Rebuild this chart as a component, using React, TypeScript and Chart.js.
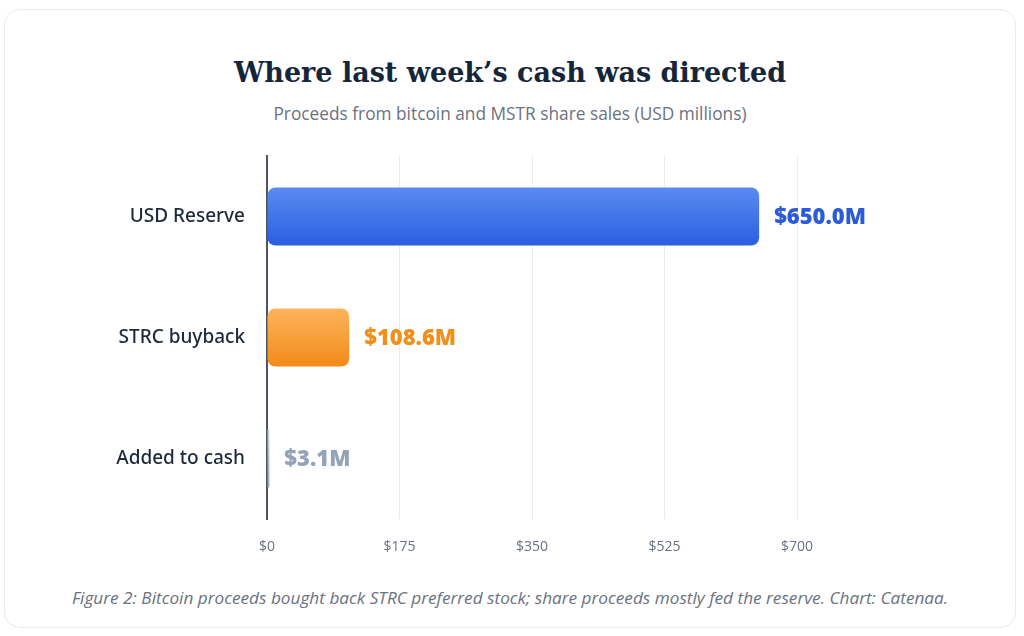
import React, { useEffect, useRef } from "react";
import Chart from "chart.js/auto";

const categories = ["USD Reserve", "STRC buyback", "Added to cash"];
const amounts = [650.0, 108.6, 3.1];
const valueLabels = ["$650.0M", "$108.6M", "$3.1M"];
const tickValues = [0, 175, 350, 525, 700];

const topColors = ["#5b8cf2", "#fdb55c", "#cbd5e1"];
const bottomColors = ["#2a5de0", "#f28a18", "#94a3b8"];
const labelColors = ["#2b5bd7", "#f0901c", "#94a3b8"];

const valueLabelPlugin = {
  id: "valueLabels",
  afterDatasetsDraw(chart: any) {
    const ctx = chart.ctx;
    const meta = chart.getDatasetMeta(0);
    ctx.save();
    ctx.font = "800 22px 'Open Sans'";
    ctx.textBaseline = "middle";
    ctx.textAlign = "left";
    meta.data.forEach((bar: any, i: number) => {
      ctx.fillStyle = labelColors[i];
      ctx.fillText(valueLabels[i], bar.x + 15, bar.y + 1);
    });
    ctx.restore();
  },
};

const App = () => {
  const chartRef = useRef<HTMLCanvasElement>(null);

  useEffect(() => {
    document.body.style.margin = "0";
    if (!chartRef.current) return;

    const myChart = new Chart(chartRef.current, {
      type: "bar",
      data: {
        labels: categories,
        datasets: [
          {
            data: amounts,
            backgroundColor: (context: any) => {
              const chart = context.chart;
              const i = context.dataIndex;
              if (!chart.chartArea || i === undefined) return bottomColors[i ?? 0];
              const center = chart.scales.y.getPixelForValue(i);
              const g = chart.ctx.createLinearGradient(0, center - 30, 0, center + 30);
              g.addColorStop(0, topColors[i]);
              g.addColorStop(1, bottomColors[i]);
              return g;
            },
            borderRadius: 8,
            borderSkipped: false,
            barPercentage: 0.6,
            categoryPercentage: 0.8,
          },
        ],
      },
      options: {
        indexAxis: "y",
        animation: false,
        responsive: true,
        maintainAspectRatio: false,
        layout: { padding: { top: 5, right: 124, bottom: 0, left: 0 } },
        plugins: {
          legend: { display: false },
          tooltip: { enabled: false },
        },
        scales: {
          x: {
            min: 0,
            max: 700,
            afterBuildTicks: (scale: any) => {
              scale.ticks = tickValues.map((v) => ({ value: v }));
            },
            afterFit: (scale: any) => {
              scale.height = 47;
            },
            border: { display: false },
            grid: { color: "#e8ebef", lineWidth: 1, drawTicks: false },
            ticks: {
              padding: 20,
              color: "#6b7280",
              font: { family: "'Open Sans'", size: 14 },
              callback: (v: any) => "$" + v,
            },
          },
          y: {
            afterFit: (scale: any) => {
              scale.width = 246;
              scale.paddingTop = 0;
              scale.paddingBottom = 0;
            },
            border: { display: true, color: "#4b5563", width: 2 },
            grid: { display: false, drawTicks: false },
            ticks: {
              padding: 22,
              color: "#1e293b",
              font: { family: "'Noto Sans'", size: 19, weight: 500 },
            },
          },
        },
      },
      plugins: [valueLabelPlugin],
    } as any);

    return () => {
      myChart.destroy();
    };
  }, []);

  return (
    <div
      style={{
        position: "absolute",
        left: 4,
        top: 9,
        width: 1012,
        height: 619,
        border: "1px solid #e9ebee",
        borderRadius: 16,
        background: "#fff",
        boxSizing: "border-box",
      }}
    >
      <div
        style={{
          position: "absolute",
          top: 47,
          left: 0,
          right: 0,
          textAlign: "center",
          fontFamily: "'DejaVu Serif', serif",
          fontWeight: 700,
          fontSize: 27,
          color: "#16263a",
        }}
      >
        Where last week’s cash was directed
      </div>
      <div
        style={{
          position: "absolute",
          top: 92,
          left: 0,
          right: 0,
          textAlign: "center",
          fontFamily: "'Open Sans', sans-serif",
          fontSize: 17.3,
          color: "#6b7280",
        }}
      >
        Proceeds from bitcoin and MSTR share sales (USD millions)
      </div>
      <div style={{ position: "absolute", left: 16, top: 141, width: 900, height: 415 }}>
        <canvas ref={chartRef} />
      </div>
      <div
        style={{
          position: "absolute",
          top: 576,
          left: 0,
          right: 0,
          textAlign: "center",
          fontFamily: "'Open Sans', sans-serif",
          fontStyle: "italic",
          fontSize: 17.2,
          color: "#6b7280",
        }}
      >
        Figure 2: Bitcoin proceeds bought back STRC preferred stock; share proceeds mostly fed the reserve. Chart: Catenaa.
      </div>
    </div>
  );
};

export default App;
